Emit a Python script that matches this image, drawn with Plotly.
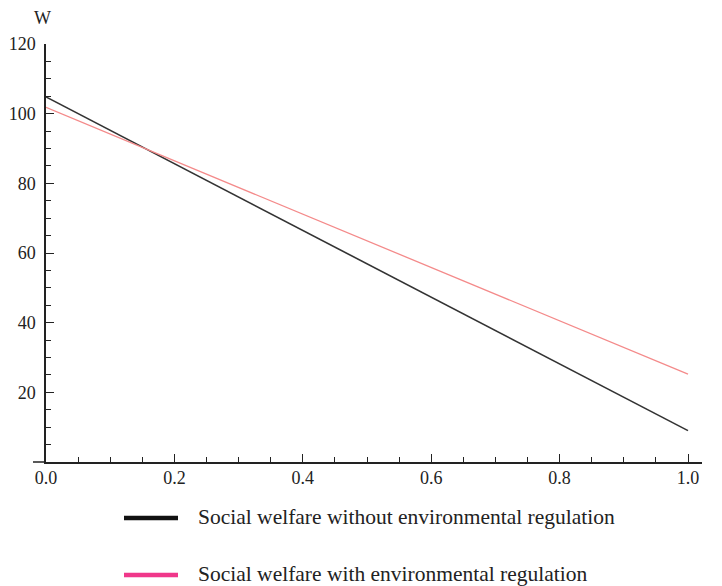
import plotly.graph_objects as go

x_vals = [0.0, 1.0]
w_without = [104.8, 9.0]
w_with = [101.8, 25.2]
series_names = ["Social welfare without environmental regulation",
                "Social welfare with environmental regulation"]
x_ticks = [0.0, 0.2, 0.4, 0.6, 0.8, 1.0]
x_tick_labels = ["0.0", "0.2", "0.4", "0.6", "0.8", "1.0"]
y_ticks = [20, 40, 60, 80, 100, 120]
y_tick_labels = ["20", "40", "60", "80", "100", "120"]

FONT = "Liberation Serif, Times New Roman, serif"
AX = "#222222"

# page body has an 8px margin; figure is sized/offset so the plot lands where the reference has it
OFF = 8
W, H = 722 - OFF, 586 - OFF
PLOT_L, PLOT_R, PLOT_T, PLOT_B = 46, 702, 44, 462   # target plot box in window pixels
L = PLOT_L - OFF
R = OFF + W - PLOT_R
T = PLOT_T - OFF
B = OFF + H - PLOT_B
PW = W - L - R
PH = H - T - B


def px_to_paper_x(px):
    return (px - PLOT_L) / PW


def px_to_paper_y(py):
    return (PLOT_B - py) / PH


fig = go.Figure()
fig.add_trace(go.Scatter(x=x_vals, y=w_without, mode="lines", name=series_names[0],
                         line=dict(color="#333333", width=1.6), showlegend=False))
fig.add_trace(go.Scatter(x=x_vals, y=w_with, mode="lines", name=series_names[1],
                         line=dict(color="#f48a8a", width=1.3), showlegend=False))

fig.update_layout(
    width=W, height=H,
    margin=dict(l=L, r=R, t=T, b=B, autoexpand=False),
    paper_bgcolor="white", plot_bgcolor="white",
    font=dict(family=FONT, size=18, color=AX),
    xaxis=dict(range=[0, 1.0218], showgrid=False, zeroline=False, automargin=False,
               showline=True, linecolor=AX, linewidth=1.5,
               ticks="inside", ticklen=8, tickwidth=1.2, tickcolor=AX,
               tickvals=x_ticks, ticktext=x_tick_labels, ticklabelstandoff=-1,
               minor=dict(dtick=0.05, ticks="inside", ticklen=5, tickwidth=1.2, tickcolor=AX)),
    yaxis=dict(range=[0, 120], showgrid=False, zeroline=False, automargin=False,
               showline=True, linecolor=AX, linewidth=1.5,
               ticks="inside", ticklen=8, tickwidth=1.2, tickcolor=AX,
               tickvals=y_ticks, ticktext=y_tick_labels, ticklabelstandoff=5,
               minor=dict(dtick=5, ticks="inside", ticklen=5, tickwidth=1.2, tickcolor=AX)),
)

# extend x axis line slightly left of the y axis
fig.add_shape(type="line", xref="paper", yref="paper", x0=px_to_paper_x(33), x1=0, y0=0, y1=0,
              line=dict(color=AX, width=1.5))

# axis titles
fig.add_annotation(text="W", xref="paper", yref="paper", x=px_to_paper_x(42), y=px_to_paper_y(18),
                   xanchor="center", yanchor="middle", showarrow=False,
                   font=dict(family=FONT, size=18, color=AX))
fig.add_annotation(text="τ", xref="paper", yref="paper", x=1, y=0, xshift=10, yshift=2,
                   xanchor="left", yanchor="middle", showarrow=False,
                   font=dict(family=FONT, size=18, color=AX))

# manual legend
legend_colors = ["#111111", "#f0378a"]
legend_y = [518, 575]
for name, col, ly in zip(series_names, legend_colors, legend_y):
    fig.add_shape(type="line", xref="paper", yref="paper",
                  x0=px_to_paper_x(124), x1=px_to_paper_x(178),
                  y0=px_to_paper_y(ly), y1=px_to_paper_y(ly),
                  line=dict(color=col, width=4.5))
    fig.add_annotation(text=name, xref="paper", yref="paper",
                       x=px_to_paper_x(196), y=px_to_paper_y(ly - 1),
                       xanchor="left", yanchor="middle", showarrow=False,
                       font=dict(family=FONT, size=21.5, color=AX))

fig.write_html("out.html")
